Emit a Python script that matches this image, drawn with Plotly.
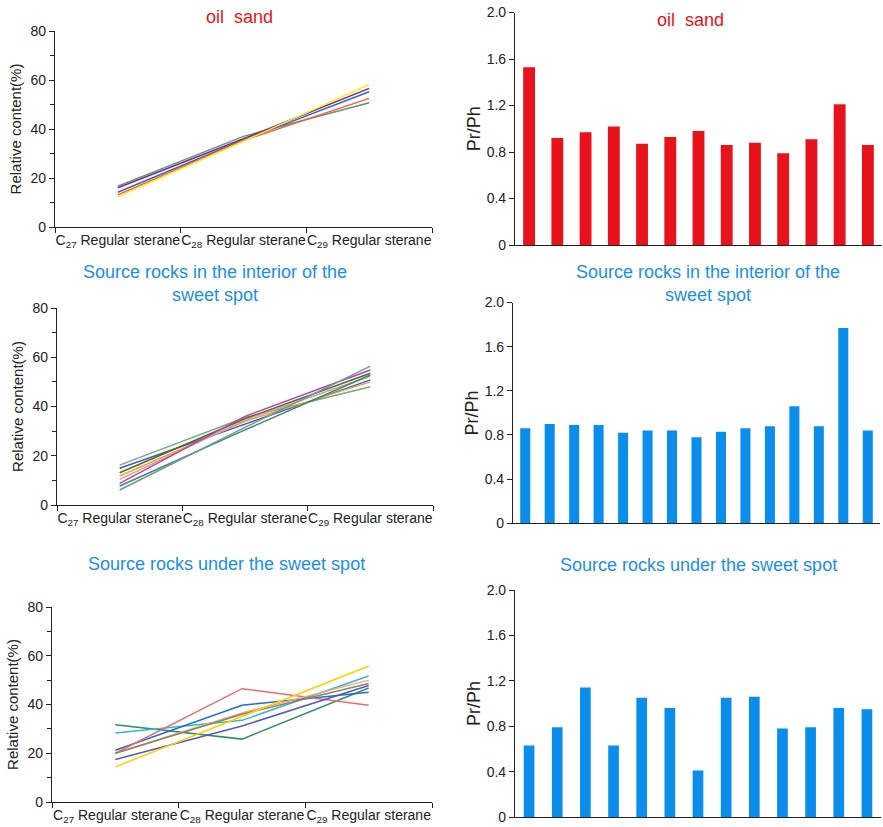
import plotly.graph_objects as go

W, H = 883, 827

# ---------------- data ----------------
sterane_labels = ["C<sub>27</sub> Regular sterane",
                  "C<sub>28</sub> Regular sterane",
                  "C<sub>29</sub> Regular sterane"]
sterane_keys = ["C27", "C28", "C29"]

# regular sterane relative content (%) for each sample: C27, C28, C29
oil_sand_sterane = [
    ("#5f9479", [16.7, 37.0, 50.7]),
    ("#7b2a85", [16.0, 36.0, 56.6]),
    ("#3a62d0", [14.2, 35.5, 55.2]),
    ("#f2603f", [13.1, 35.3, 52.5]),
    ("#ffee00", [12.4, 35.0, 58.2]),
]
interior_sterane = [
    ("#7aa88a", [16.2, 35.5, 48.0]),
    ("#3a5cc8", [14.9, 33.0, 50.8]),
    ("#4f6b1f", [13.1, 35.0, 53.5]),
    ("#f5a030", [11.8, 34.0, 50.0]),
    ("#c8a49a", [10.4, 34.5, 52.3]),
    ("#c03cb0", [8.8, 36.0, 54.8]),
    ("#3d8a6d", [7.7, 30.5, 52.8]),
    ("#6e97a8", [6.1, 31.5, 56.4]),
]
under_sterane = [
    ("#2e8b6e", [31.7, 25.8, 46.8]),
    ("#33b8cc", [28.3, 33.5, 51.7]),
    ("#1f6fcf", [21.2, 39.7, 45.0]),
    ("#ef6b6b", [20.0, 46.5, 39.7]),
    ("#f2a58c", [20.0, 36.5, 50.0]),
    ("#8c8456", [20.0, 36.0, 48.6]),
    ("#5858b8", [17.4, 31.2, 47.8]),
    ("#ffd000", [14.4, 35.2, 55.8]),
]

# Pr/Ph ratios per sample
oil_sand_prph = [1.53, 0.92, 0.97, 1.02, 0.87, 0.93, 0.98, 0.86, 0.88, 0.79, 0.91, 1.21, 0.86]
interior_prph = [0.86, 0.90, 0.89, 0.89, 0.82, 0.84, 0.84, 0.78, 0.83, 0.86, 0.88, 1.06, 0.88, 1.77, 0.84]
under_prph = [0.63, 0.79, 1.14, 0.63, 1.05, 0.96, 0.41, 1.05, 1.06, 0.78, 0.79, 0.96, 0.95]

prph_ticks = [0, 0.4, 0.8, 1.2, 1.6, 2.0]
prph_ticktext = ["0", "0.4", "0.8", "1.2", "1.6", "2.0"]
content_ticks = [0, 20, 40, 60, 80]

RED = "#e8121a"
BLUE = "#1a8fe6"
BAR_BLUE = "#0a8deb"
FONT = "Arial, Liberation Sans, sans-serif"
INK = "#222222"


def px_x(x0, x1):
    return [x0 / W, x1 / W]


def px_y(top, bottom):
    return [1 - bottom / H, 1 - top / H]


fig = go.Figure()

# panel layout: (axis id, x pixel span, y pixel span, series)
line_panels = [
    ("", px_x(55, 432), px_y(31, 227), oil_sand_sterane),
    ("3", px_x(57, 433), px_y(308, 505), interior_sterane),
    ("5", px_x(52, 432), px_y(607, 802), under_sterane),
]
bar_panels = [
    ("2", px_x(515, 882), px_y(12.5, 245), oil_sand_prph, RED, 0.42),
    ("4", px_x(513, 880), px_y(302.5, 523.3), interior_prph, BAR_BLUE, 0.41),
    ("6", px_x(515, 881), px_y(590, 817), under_prph, BAR_BLUE, 0.38),
]

layout = dict(
    width=W, height=H, template="none",
    margin=dict(l=0, r=0, t=0, b=0),
    paper_bgcolor="white", plot_bgcolor="white",
    showlegend=False,
    font=dict(family=FONT, color=INK, size=13),
)

for ax, xd, yd, series in line_panels:
    for color, vals in series:
        fig.add_trace(go.Scatter(
            x=sterane_keys, y=vals, mode="lines",
            line=dict(color=color, width=1.5),
            xaxis="x" + ax, yaxis="y" + ax,
        ))
    layout["xaxis" + ax] = dict(
        domain=xd, anchor="y" + ax, type="category",
        range=[-0.5, 2.5], tickson="boundaries",
        tickvals=sterane_keys, ticktext=sterane_labels,
        tickangle=0,
        ticks="outside", ticklen=5, tickcolor=INK,
        showline=True, linecolor=INK, linewidth=1.2,
        showgrid=False, zeroline=False,
        tickfont=dict(size=14, color=INK),
        ticklabeloverflow="allow",
    )
    layout["yaxis" + ax] = dict(
        domain=yd, anchor="x" + ax, range=[0, 80],
        tickvals=content_ticks, ticks="outside", ticklen=5, tickcolor=INK,
        minor=dict(dtick=10, tick0=0, ticks="outside", ticklen=4, tickcolor=INK),
        showline=True, linecolor=INK, linewidth=1.2,
        showgrid=False, zeroline=False,
        tickfont=dict(size=14, color=INK),
        ticklabeloverflow="allow",
        title=dict(text="Relative content(%)", font=dict(size=15, color=INK), standoff=5),
    )

for ax, xd, yd, vals, color, bw in bar_panels:
    fig.add_trace(go.Bar(
        x=list(range(1, len(vals) + 1)), y=vals,
        marker=dict(color=color, line=dict(width=0)), width=bw,
        xaxis="x" + ax, yaxis="y" + ax,
    ))
    layout["xaxis" + ax] = dict(
        domain=xd, anchor="y" + ax, range=[0.5, len(vals) + 0.5],
        showticklabels=False, ticks="",
        showline=True, linecolor=INK, linewidth=1.2,
        showgrid=False, zeroline=False,
    )
    layout["yaxis" + ax] = dict(
        domain=yd, anchor="x" + ax, range=[0, 2.0],
        tickvals=prph_ticks, ticktext=prph_ticktext,
        ticks="outside", ticklen=5, tickcolor=INK,
        showline=True, linecolor=INK, linewidth=1.2,
        showgrid=False, zeroline=False,
        tickfont=dict(size=14, color=INK),
        ticklabeloverflow="allow",
        title=dict(text="Pr/Ph", font=dict(size=18, color=INK), standoff=1),
    )

# panel titles
titles = [
    ("oil\u00a0 sand", RED, 240, 17),
    ("oil\u00a0 sand", RED, 690, 20),
    ("Source rocks in the interior of the<br>sweet spot", BLUE, 215, 284),
    ("Source rocks in the interior of the<br>sweet spot", BLUE, 708, 283),
    ("Source rocks under the sweet spot", BLUE, 226, 564),
    ("Source rocks under the sweet spot", BLUE, 698, 565),
]
layout["annotations"] = [
    dict(text=t, x=cx / W, y=1 - cy / H, xref="paper", yref="paper",
         xanchor="center", yanchor="middle", showarrow=False,
         font=dict(family=FONT, size=18, color=c))
    for t, c, cx, cy in titles
]

fig.update_layout(**layout)
fig.write_html("out.html")
